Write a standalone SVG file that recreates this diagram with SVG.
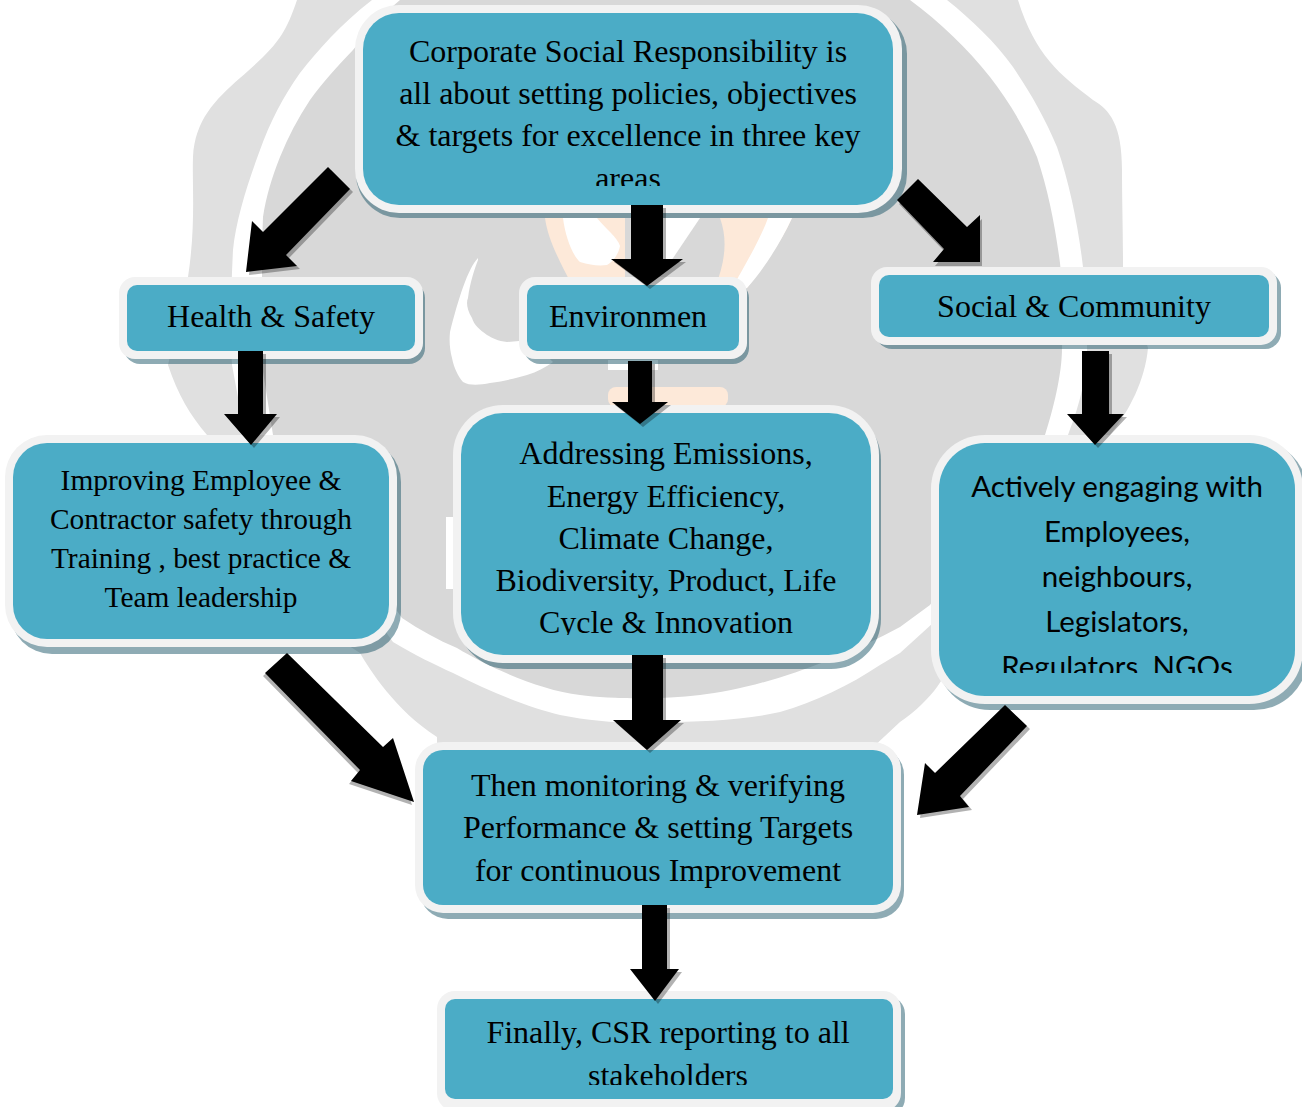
<svg xmlns="http://www.w3.org/2000/svg" width="1302" height="1107" viewBox="0 0 1302 1107">
<style>
.o{fill:#f2f2f2}.s{fill:#185466;opacity:.49}.i{fill:#4bacc6}
.t{font-family:"Liberation Serif","Times New Roman",serif;font-size:32px;fill:#000;text-anchor:middle}
.t2{font-size:29.4px}
.c{font-family:Lato,"Liberation Sans",sans-serif;font-size:29.5px;fill:#000;text-anchor:middle}
.arrow{fill:#000}.sh{fill:#000;opacity:.3}
</style>
<defs>
<clipPath id="c1"><rect x="363" y="13" width="530" height="173"/></clipPath>
<clipPath id="c2"><rect x="461" y="413" width="410" height="222"/></clipPath>
<clipPath id="c3"><rect x="939" y="443" width="356" height="230"/></clipPath>
<clipPath id="c4"><rect x="445" y="999" width="448" height="86"/></clipPath>
<polygon id="a1" points="328,167 350,189 286,255 297,266 246,272 252,221 263,232"/>
<polygon id="a2" points="631,205 663,205 663,259 683,259 647,286 611,259 631,259"/>
<polygon id="a3" points="918,179 897,200 944,249 933,262 980,262 980,215 967,227"/>
<polygon id="a4" points="238,351 263,351 263,414 277,414 251,445 224,414 238,414"/>
<polygon id="a5" points="628,361 652,361 652,402 668,402 640,424 612,402 628,402"/>
<polygon id="a6" points="1082,351 1109,351 1109,414 1124,414 1095,445 1067,414 1082,414"/>
<polygon id="a7" points="265,673 287,653 383,747 393,738 414,802 351,781 360,770"/>
<polygon id="a8" points="632,655 663,655 663,720 681,720 647,750 613,720 632,720"/>
<polygon id="a9" points="1005,705 1027,726 960,796 969,807 917,815 925,763 935,773"/>
<polygon id="a10" points="642,905 667,905 667,969 679,969 655,1001 630,969 642,969"/>
</defs>
<rect width="1302" height="1107" fill="#fff"/>
<g id="watermark">
<path fill="#e0e0e0" d="M297 0C285 35 278 45 240 78C215 100 195 120 193 157C192 185 196 225 188 277L168 365C178 395 190 415 207 435L340 640L360 653C370 670 395 710 437 737L437 750L870 750L900 722C915 712 930 697 937 687L1110 435C1130 410 1145 380 1148 348L1123 267C1123 230 1122 200 1122 170C1122 125 1110 110 1093 100C1060 75 1035 55 1018 0Z"/>
<path fill="#fff" d="M372 0C340 25 318 50 300 73C283 97 270 122 260 150C247 185 236 220 233 250C231 290 230 330 232 365L245 435L393 642C415 655 435 665 453 673C490 692 530 708 560 715C595 722 630 724 660 722C700 722 745 720 780 712C815 702 850 685 880 665C887 661 893 657 900 653L933 623L1068 435C1078 410 1088 375 1087 348C1087 320 1086 295 1083 267C1078 225 1070 185 1057 147C1045 118 1030 92 1013 67C995 42 972 20 947 0Z"/>
<path fill="#d8d8d8" d="M400 0C382 15 367 33 353 50C337 67 322 83 310 100C298 118 288 137 280 157C272 177 266 197 263 217C262 237 262 257 262 277L262 365L273 435L402 618C420 630 438 640 457 648C490 668 540 690 580 695C610 699 660 700 700 695C750 690 830 665 900 627L930 605L1045 435C1053 410 1062 375 1062 348C1063 320 1063 290 1060 263C1055 225 1048 190 1037 157C1025 128 1008 100 990 77C967 48 940 22 910 0Z"/>
<g id="logo">
<path fill="#fde9d9" d="M545 218C548 240 560 262 572 285L625 285L625 218Z"/>
<path fill="#fff" d="M563 218L597 218C605 228 618 238 620 246C618 256 612 262 607 265C598 266 590 265 580 262C572 255 565 235 563 218Z"/>
<path fill="#fde9d9" d="M720 218L792 218C780 245 760 270 747 288L715 288C725 262 728 240 720 218Z"/>
<path fill="#fff" d="M768 218L792 218C782 240 765 268 747 288L732 288C745 265 760 240 768 218Z"/>
<path fill="#fff" d="M663 218L700 218L665 270L655 262Z"/>
<rect x="608" y="360" width="50" height="10" fill="#fff"/>
<rect x="608" y="387" width="120" height="20" rx="8" fill="#fde9d9"/>
<path fill="#fff" d="M478 258C468 268 458 300 450 332C449 342 450 350 452 358C454 368 458 376 463 382C470 386 480 385 490 383C505 381 516 378 527 375C537 372 546 367 553 362L530 340L507 342C498 341 492 338 487 335C480 330 474 325 472 318C467 310 466 302 468 298C470 282 475 268 478 260Z"/>
<rect x="446" y="517" width="7" height="72" fill="#fff"/>
</g>
</g>
<g id="n-top">
<rect class="s" x="356" y="10" width="551" height="208" rx="44"/><rect class="o" x="355" y="5" width="547" height="208" rx="44"/><rect class="i" x="363" y="13" width="530" height="192" rx="36"/>
<g clip-path="url(#c1)"><text class="t" x="628" y="62">Corporate Social Responsibility is</text><text class="t" x="628" y="104">all about setting policies, objectives</text><text class="t" x="628" y="146">&amp; targets for excellence in three key</text><text class="t" x="628" y="189">areas</text></g>
</g>
<g id="n-health">
<rect class="s" x="124" y="282" width="301" height="82" rx="16"/><rect class="o" x="119" y="277" width="304" height="82" rx="16"/><rect class="i" x="127" y="285" width="288" height="66" rx="10"/>
<text class="t" x="271" y="327">Health &amp; Safety</text>
</g>
<g id="n-env">
<rect class="s" x="524" y="282" width="225" height="82" rx="16"/><rect class="o" x="519" y="277" width="228" height="82" rx="16"/><rect class="i" x="527" y="285" width="212" height="66" rx="10"/>
<text class="t" x="628" y="327">Environmen</text>
</g>
<g id="n-social">
<rect class="s" x="876" y="272" width="405" height="77" rx="16"/><rect class="o" x="871" y="267" width="406" height="78" rx="16"/><rect class="i" x="879" y="275" width="390" height="62" rx="10"/>
<text class="t" x="1074" y="317">Social &amp; Community</text>
</g>
<g id="n-left">
<rect class="s" x="10" y="440" width="391" height="214" rx="42"/><rect class="o" x="5" y="435" width="392" height="212" rx="42"/><rect class="i" x="13" y="443" width="376" height="196" rx="34"/>
<text class="t t2" x="201" y="490">Improving Employee &amp;</text><text class="t t2" x="201" y="529">Contractor safety through</text><text class="t t2" x="201" y="568">Training , best practice &amp;</text><text class="t t2" x="201" y="607">Team leadership</text>
</g>
<g id="n-mid">
<rect class="s" x="458" y="410" width="423" height="259" rx="50"/><rect class="o" x="453" y="405" width="426" height="258" rx="50"/><rect class="i" x="461" y="413" width="410" height="242" rx="42"/>
<g clip-path="url(#c2)"><text class="t" x="666" y="464">Addressing Emissions,</text><text class="t" x="666" y="507">Energy Efficiency,</text><text class="t" x="666" y="549">Climate Change,</text><text class="t" x="666" y="591">Biodiversity, Product, Life</text><text class="t" x="666" y="633">Cycle &amp; Innovation</text></g>
</g>
<g id="n-right">
<rect class="s" x="936" y="440" width="372" height="270" rx="54"/><rect class="o" x="931" y="435" width="372" height="269" rx="54"/><rect class="i" x="939" y="443" width="356" height="253" rx="46"/>
<g clip-path="url(#c3)"><text class="c" x="1117" y="496.5">Actively engaging with</text><text class="c" x="1117" y="541.5">Employees,</text><text class="c" x="1117" y="586.5">neighbours,</text><text class="c" x="1117" y="631.5">Legislators,</text><text class="c" x="1117" y="676.5">Regulators, NGOs</text></g>
</g>
<g id="n-monitor">
<rect class="s" x="420" y="747" width="484" height="172" rx="28"/><rect class="o" x="415" y="742" width="486" height="171" rx="28"/><rect class="i" x="423" y="750" width="470" height="155" rx="20"/>
<text class="t" x="658" y="796">Then monitoring &amp; verifying</text><text class="t" x="658" y="838">Performance &amp; setting Targets</text><text class="t" x="658" y="881">for continuous Improvement</text>
</g>
<g id="n-final">
<rect class="s" x="442" y="996" width="463" height="120" rx="18"/><rect class="o" x="437" y="991" width="464" height="120" rx="18"/><rect class="i" x="445" y="999" width="448" height="100" rx="10"/>
<g clip-path="url(#c4)"><text class="t" x="668" y="1043">Finally, CSR reporting to all</text><text class="t" x="668" y="1086">stakeholders</text></g>
</g>
<g id="connectors">
<use href="#a1" class="sh" x="3" y="3"/><use href="#a1" class="arrow"/>
<use href="#a2" class="sh" x="3" y="3"/><use href="#a2" class="arrow"/>
<use href="#a3" class="sh" x="2" y="4"/><use href="#a3" class="arrow"/>
<use href="#a4" class="sh" x="3" y="3"/><use href="#a4" class="arrow"/>
<use href="#a5" class="sh" x="3" y="3"/><use href="#a5" class="arrow"/>
<use href="#a6" class="sh" x="3" y="3"/><use href="#a6" class="arrow"/>
<use href="#a7" class="sh" x="-2" y="3"/><use href="#a7" class="arrow"/>
<use href="#a8" class="sh" x="3" y="3"/><use href="#a8" class="arrow"/>
<use href="#a9" class="sh" x="3" y="3"/><use href="#a9" class="arrow"/>
<use href="#a10" class="sh" x="3" y="3"/><use href="#a10" class="arrow"/>
</g>
</svg>
